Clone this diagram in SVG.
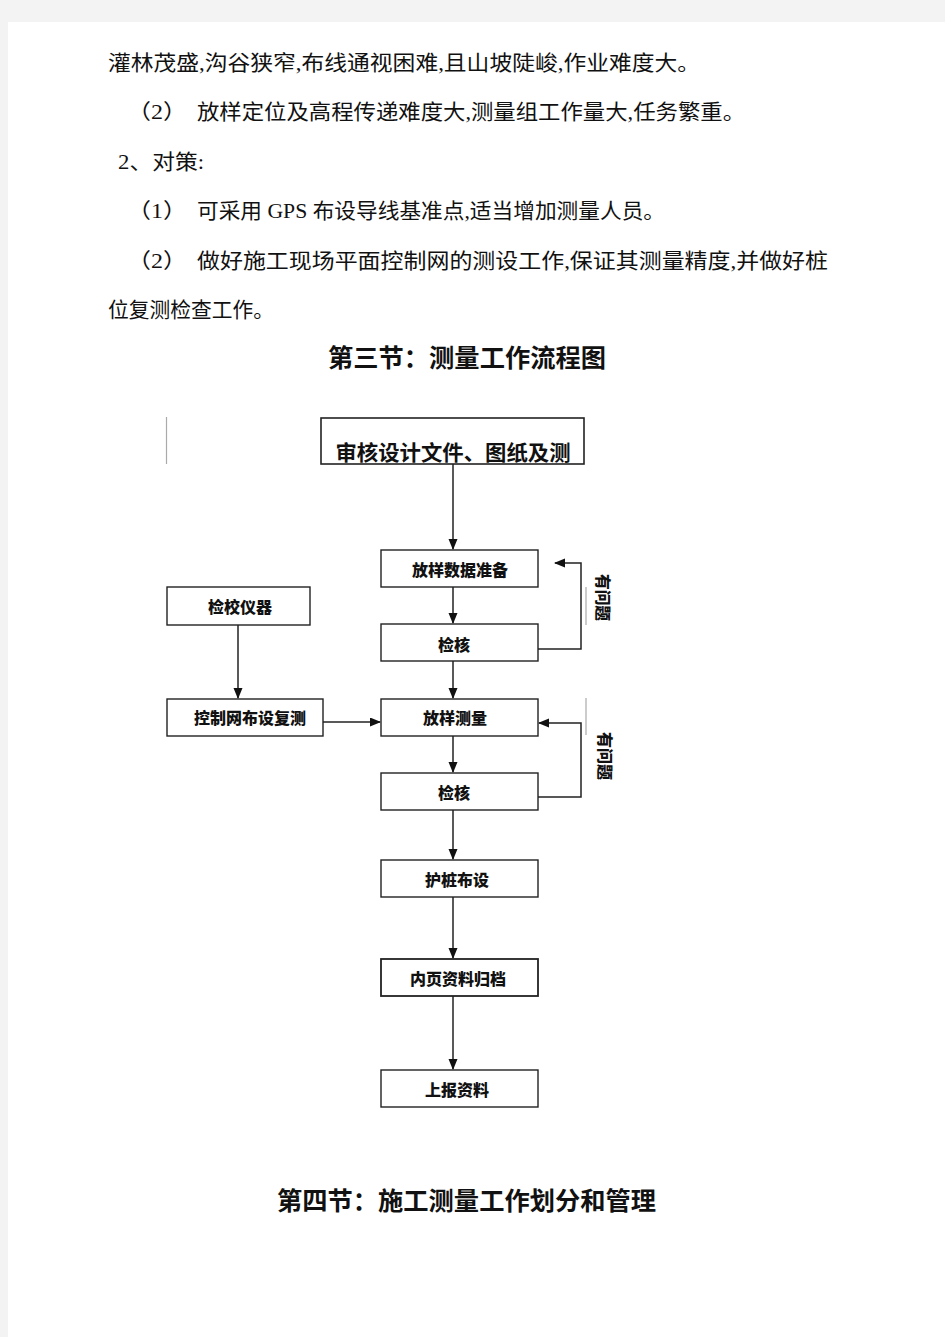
<svg xmlns="http://www.w3.org/2000/svg" width="945" height="1337" viewBox="0 0 945 1337">
<defs>
<marker id="ah" markerWidth="11" markerHeight="10" refX="10" refY="4.5" orient="auto" markerUnits="userSpaceOnUse">
<path d="M0,0 L11,4.5 L0,9 Z" fill="#111"/>
</marker>
<style>
.body{font-family:"Liberation Serif","Noto Sans CJK SC",serif;font-size:21px;fill:#111}
.title{font-family:"Liberation Sans","Noto Sans CJK SC",sans-serif;font-size:25px;font-weight:700;fill:#111}
.box{fill:#fff;stroke:#222;stroke-width:1.4}
.lbl{font-family:"Liberation Sans","Noto Sans CJK SC",sans-serif;font-size:16px;font-weight:900;fill:#111;text-anchor:middle}
.side{font-family:"Liberation Sans","Noto Sans CJK SC",sans-serif;font-size:15.5px;font-weight:900;fill:#111}
.conn{stroke:#222;stroke-width:1.5;fill:none}
.gray{stroke:#aaa;stroke-width:1.2}
</style>
</defs>
<rect x="0" y="0" width="945" height="1337" fill="#f3f3f3"/>
<rect x="8" y="22" width="937" height="1315" fill="#fff"/>

<g id="bodytext">
<text class="body" x="108" y="70" textLength="592" lengthAdjust="spacingAndGlyphs">灌林茂盛,沟谷狭窄,布线通视困难,且山坡陡峻,作业难度大。</text>
<text class="body" x="127" y="119" textLength="60" lengthAdjust="spacingAndGlyphs">（2）</text>
<text class="body" x="197" y="119" textLength="548" lengthAdjust="spacingAndGlyphs">放样定位及高程传递难度大,测量组工作量大,任务繁重。</text>
<text class="body" x="118" y="169" textLength="86" lengthAdjust="spacingAndGlyphs">2、对策:</text>
<text class="body" x="127" y="218" textLength="60" lengthAdjust="spacingAndGlyphs">（1）</text>
<text class="body" x="197" y="218" textLength="468" lengthAdjust="spacingAndGlyphs">可采用 GPS 布设导线基准点,适当增加测量人员。</text>
<text class="body" x="127" y="268" textLength="60" lengthAdjust="spacingAndGlyphs">（2）</text>
<text class="body" x="197" y="268" textLength="631" lengthAdjust="spacingAndGlyphs">做好施工现场平面控制网的测设工作,保证其测量精度,并做好桩</text>
<text class="body" x="108" y="317" textLength="166" lengthAdjust="spacingAndGlyphs">位复测检查工作。</text>
<text class="title" x="328" y="367" textLength="278" lengthAdjust="spacingAndGlyphs">第三节：测量工作流程图</text>
<text class="title" x="277" y="1210" textLength="379" lengthAdjust="spacingAndGlyphs">第四节：施工测量工作划分和管理</text>
</g>

<g id="decor">
<line class="gray" x1="166.5" y1="417" x2="166.5" y2="464"/>
<line class="gray" x1="586" y1="587" x2="586" y2="625"/>
<line class="gray" x1="586" y1="698" x2="586" y2="735"/>
</g>

<g id="connectors">
<line class="conn" x1="453" y1="464" x2="453" y2="549" marker-end="url(#ah)"/>
<line class="conn" x1="453" y1="587" x2="453" y2="623" marker-end="url(#ah)"/>
<line class="conn" x1="453" y1="661" x2="453" y2="698" marker-end="url(#ah)"/>
<line class="conn" x1="453" y1="736" x2="453" y2="772" marker-end="url(#ah)"/>
<line class="conn" x1="453" y1="810" x2="453" y2="859" marker-end="url(#ah)"/>
<line class="conn" x1="453" y1="897" x2="453" y2="958" marker-end="url(#ah)"/>
<line class="conn" x1="453" y1="996" x2="453" y2="1069" marker-end="url(#ah)"/>
<line class="conn" x1="238" y1="625" x2="238" y2="698" marker-end="url(#ah)"/>
<line class="conn" x1="323" y1="722" x2="380" y2="722" marker-end="url(#ah)"/>
<polyline class="conn" points="538,649 581,649 581,563 555,563" marker-end="url(#ah)"/>
<polyline class="conn" points="538,797 581,797 581,723 539,723" marker-end="url(#ah)"/>
</g>

<g id="n_top">
<rect x="321" y="418" width="263" height="46" fill="#fff" stroke="#222" stroke-width="1.6"/>
<text x="453" y="460" text-anchor="middle" font-family="Liberation Sans,Noto Sans CJK SC,sans-serif" font-size="21" font-weight="700" fill="#111" textLength="235" lengthAdjust="spacingAndGlyphs">审核设计文件、图纸及测</text>
</g>
<g id="n_data">
<rect class="box" x="381" y="550" width="157" height="37"/>
<text class="lbl" x="460" y="576">放样数据准备</text>
</g>
<g id="n_check1">
<rect class="box" x="381" y="624" width="157" height="37"/>
<text class="lbl" x="454" y="651">检核</text>
</g>
<g id="n_instr">
<rect class="box" x="167" y="587" width="143" height="38"/>
<text class="lbl" x="240" y="613">检校仪器</text>
</g>
<g id="n_net">
<rect class="box" x="167" y="699" width="156" height="37"/>
<text class="lbl" x="250" y="724">控制网布设复测</text>
</g>
<g id="n_stake">
<rect class="box" x="381" y="699" width="157" height="37"/>
<text class="lbl" x="455" y="724">放样测量</text>
</g>
<g id="n_check2">
<rect class="box" x="381" y="773" width="157" height="37"/>
<text class="lbl" x="454" y="799">检核</text>
</g>
<g id="n_protect">
<rect class="box" x="381" y="860" width="157" height="37"/>
<text class="lbl" x="457" y="886">护桩布设</text>
</g>
<g id="n_archive">
<rect x="381" y="959" width="157" height="37" fill="#fff" stroke="#222" stroke-width="1.8"/>
<text class="lbl" x="458" y="985">内页资料归档</text>
</g>
<g id="n_report">
<rect class="box" x="381" y="1070" width="157" height="37"/>
<text class="lbl" x="457" y="1096">上报资料</text>
</g>
<g id="lbl_problem1">
<text class="side" transform="translate(597,574) rotate(90)" textLength="47" lengthAdjust="spacingAndGlyphs">有问题</text>
</g>
<g id="lbl_problem2">
<text class="side" transform="translate(599,732) rotate(90)" textLength="48" lengthAdjust="spacingAndGlyphs">有问题</text>
</g>
</svg>
